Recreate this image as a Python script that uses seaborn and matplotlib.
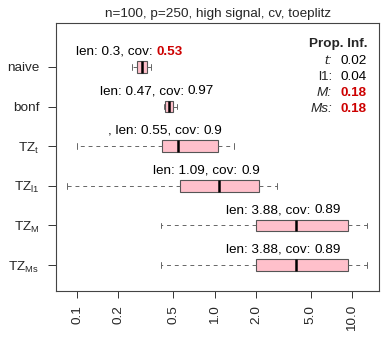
import numpy as np
import pandas as pd
import matplotlib
matplotlib.use("Agg")
import matplotlib.pyplot as plt
import seaborn as sns
from matplotlib.offsetbox import TextArea, HPacker, AnnotationBbox

# ---------------- data ----------------
methods = ["naive", "bonf", "TZ_t", "TZ_l1", "TZ_M", "TZ_Ms"]
method_labels = ["naive", "bonf", r"TZ$_{\mathrm{t}}$", r"TZ$_{\mathrm{l1}}$",
                 r"TZ$_{\mathrm{M}}$", r"TZ$_{\mathrm{Ms}}$"]
# five-number summaries (min, q1, median, q3, max) of interval length
naive = [0.25, 0.272, 0.296, 0.321, 0.344]
bonf = [0.43, 0.436, 0.469, 0.50, 0.531]
tz_t = [0.0995, 0.415, 0.54, 1.066, 1.386]
tz_l1 = [0.085, 0.564, 1.078, 2.12, 2.86]
tz_m = [0.41, 2.01, 3.89, 9.3, 12.8]
tz_ms = [0.41, 2.01, 3.89, 9.3, 12.8]
summaries = [naive, bonf, tz_t, tz_l1, tz_m, tz_ms]

label_prefix = ["", "", ", ", "", "", ""]
len_labels = ["0.3", "0.47", "0.55", "1.09", "3.88", "3.88"]
cov_labels = ["0.53", "0.97", "0.9", "0.9", "0.89", "0.89"]
cov_highlight = [True, False, False, False, False, False]

prop_labels = ["t:", "l1:", "M:", "Ms:"]
prop_values = ["0.02", "0.04", "0.18", "0.18"]
prop_italic = [True, False, True, True]
prop_highlight = [False, False, True, True]

xticks = [0.1, 0.2, 0.5, 1.0, 2.0, 5.0, 10.0]
xtick_labels = ["0.1", "0.2", "0.5", "1.0", "2.0", "5.0", "10.0"]
title = "n=100, p=250, high signal, cv, toeplitz"

# ---------------- style ----------------
sns.set_theme(style="ticks")
plt.rcParams["font.family"] = ["Liberation Sans", "DejaVu Sans"]
plt.rcParams["mathtext.fontset"] = "custom"
plt.rcParams["mathtext.rm"] = "Liberation Sans"
plt.rcParams["mathtext.it"] = "Liberation Sans:italic"
FS = 9.7
RED = "#CD0000"

df = pd.DataFrame([(m, v) for m, s in zip(methods, summaries) for v in s],
                  columns=["method", "value"])

fig = plt.figure(figsize=(3.88, 3.47), dpi=100)
ax = fig.add_axes([56 / 388, 1 - 291 / 347, 323 / 388, 268 / 347])

sns.boxplot(data=df, x="value", y="method", order=methods, log_scale=True,
            whis=(0, 100), width=0.29, color="#FFC0CB", saturation=1,
            linecolor="#555555", linewidth=0.8, showfliers=False,
            whiskerprops=dict(linestyle=(0, (4, 4)), color="#666666", linewidth=0.7),
            capprops=dict(color="#666666", linewidth=0.7),
            medianprops=dict(color="black", linewidth=1.8),
            ax=ax)

ax.set_xlim(0.0703, 15.7)
ax.set_ylim(5.657, -1.111)
ax.set_xticks(xticks)
ax.set_xticklabels(xtick_labels, rotation=90, fontsize=FS, va="top", ha="center")
ax.minorticks_off()
ax.set_yticks(range(len(methods)))
ax.set_yticklabels(method_labels, fontsize=FS)
ax.tick_params(axis="x", length=5, width=0.7, pad=5, color="#333333")
ax.tick_params(axis="y", length=6, width=0.7, pad=6, color="#333333")
ax.set_xlabel("")
ax.set_ylabel("")
for sp in ax.spines.values():
    sp.set_visible(True)
    sp.set_color("#444444")
    sp.set_linewidth(0.8)

fig.text(218 / 388, 1 - 14 / 347, title, ha="center", va="center", fontsize=FS)

# annotations above boxes
for i, s in enumerate(summaries):
    t1 = TextArea(f"{label_prefix[i]}len: {len_labels[i]}, cov: ",
                  textprops=dict(fontsize=FS, color="black"))
    if cov_highlight[i]:
        t2 = TextArea(cov_labels[i], textprops=dict(fontsize=FS, color=RED,
                                                   fontweight="bold"))
    else:
        t2 = TextArea(cov_labels[i], textprops=dict(fontsize=FS, color="black"))
    pack = HPacker(children=[t1, t2], pad=0, sep=0, align="baseline")
    ab = AnnotationBbox(pack, (s[2], i), xybox=(-9.0, 11.0),
                        xycoords="data", boxcoords="offset points",
                        box_alignment=(0.5, 0.5), frameon=False, pad=0)
    ax.add_artist(ab)

# proportion table
def ax_y(py):
    return (291 - py) / 268

ax.text((367 - 56) / 323, ax_y(43.5), "Prop. Inf.", transform=ax.transAxes,
        ha="right", va="center", fontsize=FS, fontweight="bold")
row_y = [60.7, 76.9, 93.1, 109.3]
for lab, val, it, hl, py in zip(prop_labels, prop_values, prop_italic,
                                prop_highlight, row_y):
    ax.text((332 - 56) / 323, ax_y(py), lab, transform=ax.transAxes,
            ha="right", va="center", fontsize=FS,
            fontstyle="italic" if it else "normal")
    ax.text((367 - 56) / 323, ax_y(py), val, transform=ax.transAxes,
            ha="right", va="center", fontsize=FS,
            color=RED if hl else "black",
            fontweight="bold" if hl else "normal")

fig.savefig("out.png", dpi=100)
